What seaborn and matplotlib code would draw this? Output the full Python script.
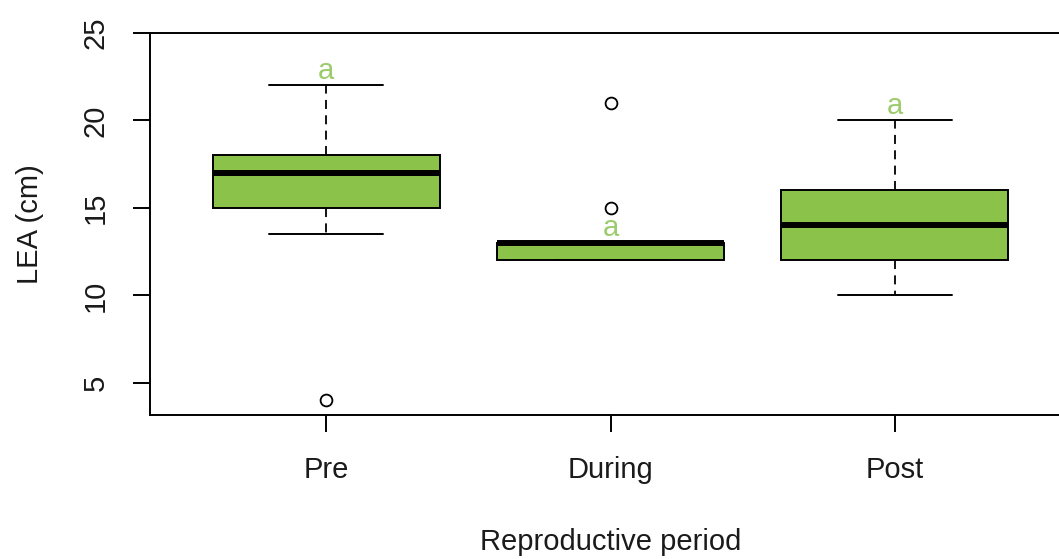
import matplotlib
matplotlib.use("Agg")
import matplotlib.pyplot as plt
import seaborn as sns

# ---- data ----
periods = ["Pre", "During", "Post"]
whisker_low = [13.5, 12, 10]
q1 = [15, 12, 12]
median = [17, 13, 14]
q3 = [18, 13, 16]
whisker_high = [22, 13, 20]
outliers = [[4], [21, 15], []]
letters = ["a", "a", "a"]
letter_y = [23, 14, 21]
y_ticks = [5, 10, 15, 20, 25]

sns.set_theme(style="white")
plt.rcParams['font.family'] = ['Liberation Sans', 'DejaVu Sans']

fill = "#8bc34a"
letter_col = "#9ccc6c"
text_col = "#1a1a1a"

fig = plt.figure(figsize=(10.59, 5.59), dpi=100)
ax = fig.add_axes([150/1059, 1-415/559, 921/1059, 382/559])

stats = []
for i, name in enumerate(periods):
    stats.append(dict(label=name, whislo=whisker_low[i], q1=q1[i], med=median[i],
                      q3=q3[i], whishi=whisker_high[i], fliers=outliers[i]))

positions = list(range(1, len(periods) + 1))
ax.bxp(stats, positions=positions, widths=0.8, patch_artist=True, showfliers=True,
       boxprops=dict(facecolor=fill, edgecolor="black", linewidth=1.4),
       medianprops=dict(color="black", linewidth=4.3, solid_capstyle="butt"),
       whiskerprops=dict(color="black", linewidth=1.3, linestyle=(0, (5, 3.5))),
       capprops=dict(color="black", linewidth=1.4),
       capwidths=0.4,
       flierprops=dict(marker="o", markerfacecolor="none", markeredgecolor="black",
                       markersize=8.5, markeredgewidth=1.3))

for i, (lab, yy) in enumerate(zip(letters, letter_y)):
    ax.text(positions[i], yy, lab, color=letter_col, fontsize=21,
            ha="center", va="center_baseline")

ax.set_xlim(0.38, 3.62)
ax.set_ylim(3.17, 25)
ax.set_yticks(y_ticks)
ax.set_yticklabels([str(t) for t in y_ticks], rotation=90, va="center")
ax.set_xticks(positions)
ax.set_xticklabels(periods)

ax.tick_params(axis="both", which="both", direction="out", length=12.2, width=1.4,
               color="black", labelsize=21, labelcolor=text_col, pad=17,
               bottom=True, left=True)
for sp in ax.spines.values():
    sp.set_visible(True)
    sp.set_color("black")
    sp.set_linewidth(1.4)

ax.set_xlabel("Reproductive period", fontsize=21, color=text_col, labelpad=32)
ax.set_ylabel("LEA (cm)", fontsize=21, color=text_col, labelpad=27)
ax.grid(False)

fig.savefig("out.png", dpi=100, facecolor="white")
